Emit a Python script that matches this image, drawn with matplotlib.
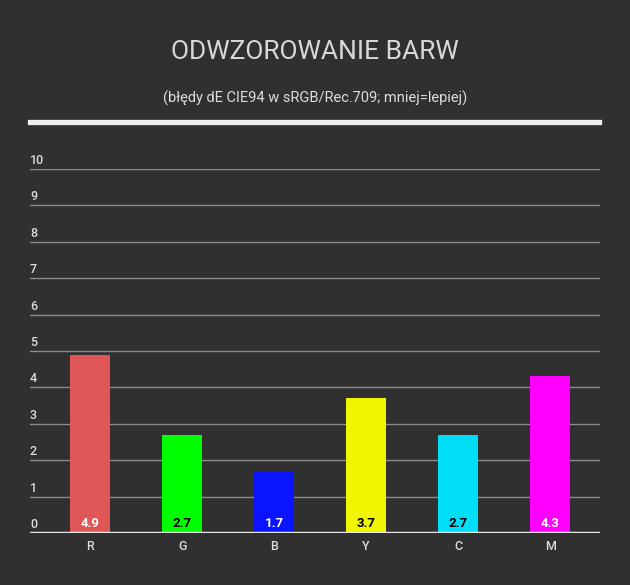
import matplotlib
matplotlib.use("Agg")
import matplotlib.pyplot as plt
from matplotlib.lines import Line2D

categories = ["R", "G", "B", "Y", "C", "M"]
values = [4.9, 2.7, 1.7, 3.7, 2.7, 4.3]
bar_colors = ["#de5656", "#00ff00", "#0a14ff", "#f0f500", "#00ddf7", "#ff00ff"]
label_colors = ["white", "black", "white", "black", "black", "white"]
y_ticks = list(range(0, 11))

bg = "#303030"
plt.rcParams['font.family'] = ['Roboto', 'DejaVu Sans']

fig = plt.figure(figsize=(6.3, 5.85), dpi=100, facecolor=bg)
W, H = 630, 585
ax = fig.add_axes([30 / W, 52 / H, 570 / W, 364 / H])
ax.set_facecolor(bg)

x = list(range(len(categories)))
ax.bar(x, values, width=0.435, color=bar_colors, zorder=3)

ax.set_xlim(-0.652, 5.54)
ax.set_ylim(0, 10)

for v in y_ticks[1:]:
    ax.axhline(v, color="#8a8a8a", lw=1, zorder=1)
ax.axhline(0, color="#e6e6e6", lw=2.5, zorder=4)

for v in y_ticks:
    ax.annotate(str(v), xy=(0, v), xycoords=("axes fraction", "data"),
                xytext=(0, 1.5), textcoords="offset points",
                ha="left", va="bottom", color="#dddddd", fontsize=9,
                fontweight="medium")

for xi, v, c in zip(x, values, label_colors):
    ax.annotate(f"{v:.1f}", xy=(xi, 0), xytext=(0, 2), textcoords="offset points",
                ha="center", va="bottom", color=c, fontsize=9.5, fontweight="bold",
                zorder=5)

ax.set_xticks(x)
ax.set_xticklabels(categories, color="#dddddd", fontsize=9, fontweight="medium")
ax.tick_params(axis="x", length=0, pad=5)
ax.set_yticks([])
for s in ax.spines.values():
    s.set_visible(False)

fig.text(315 / W, 1 - 52 / H, "ODWZOROWANIE BARW", ha="center", va="center",
         color="#d8d8d8", fontsize=19, fontweight="normal")
fig.text(315 / W, 1 - 98 / H, "(błędy dE CIE94 w sRGB/Rec.709; mniej=lepiej)",
         ha="center", va="center", color="#dddddd", fontsize=10.5)
fig.add_artist(Line2D([30 / W, 599 / W], [1 - 122 / H, 1 - 122 / H],
                      color="#eeeeee", lw=3.8, transform=fig.transFigure))

fig.savefig("out.png", dpi=100, facecolor=bg)
